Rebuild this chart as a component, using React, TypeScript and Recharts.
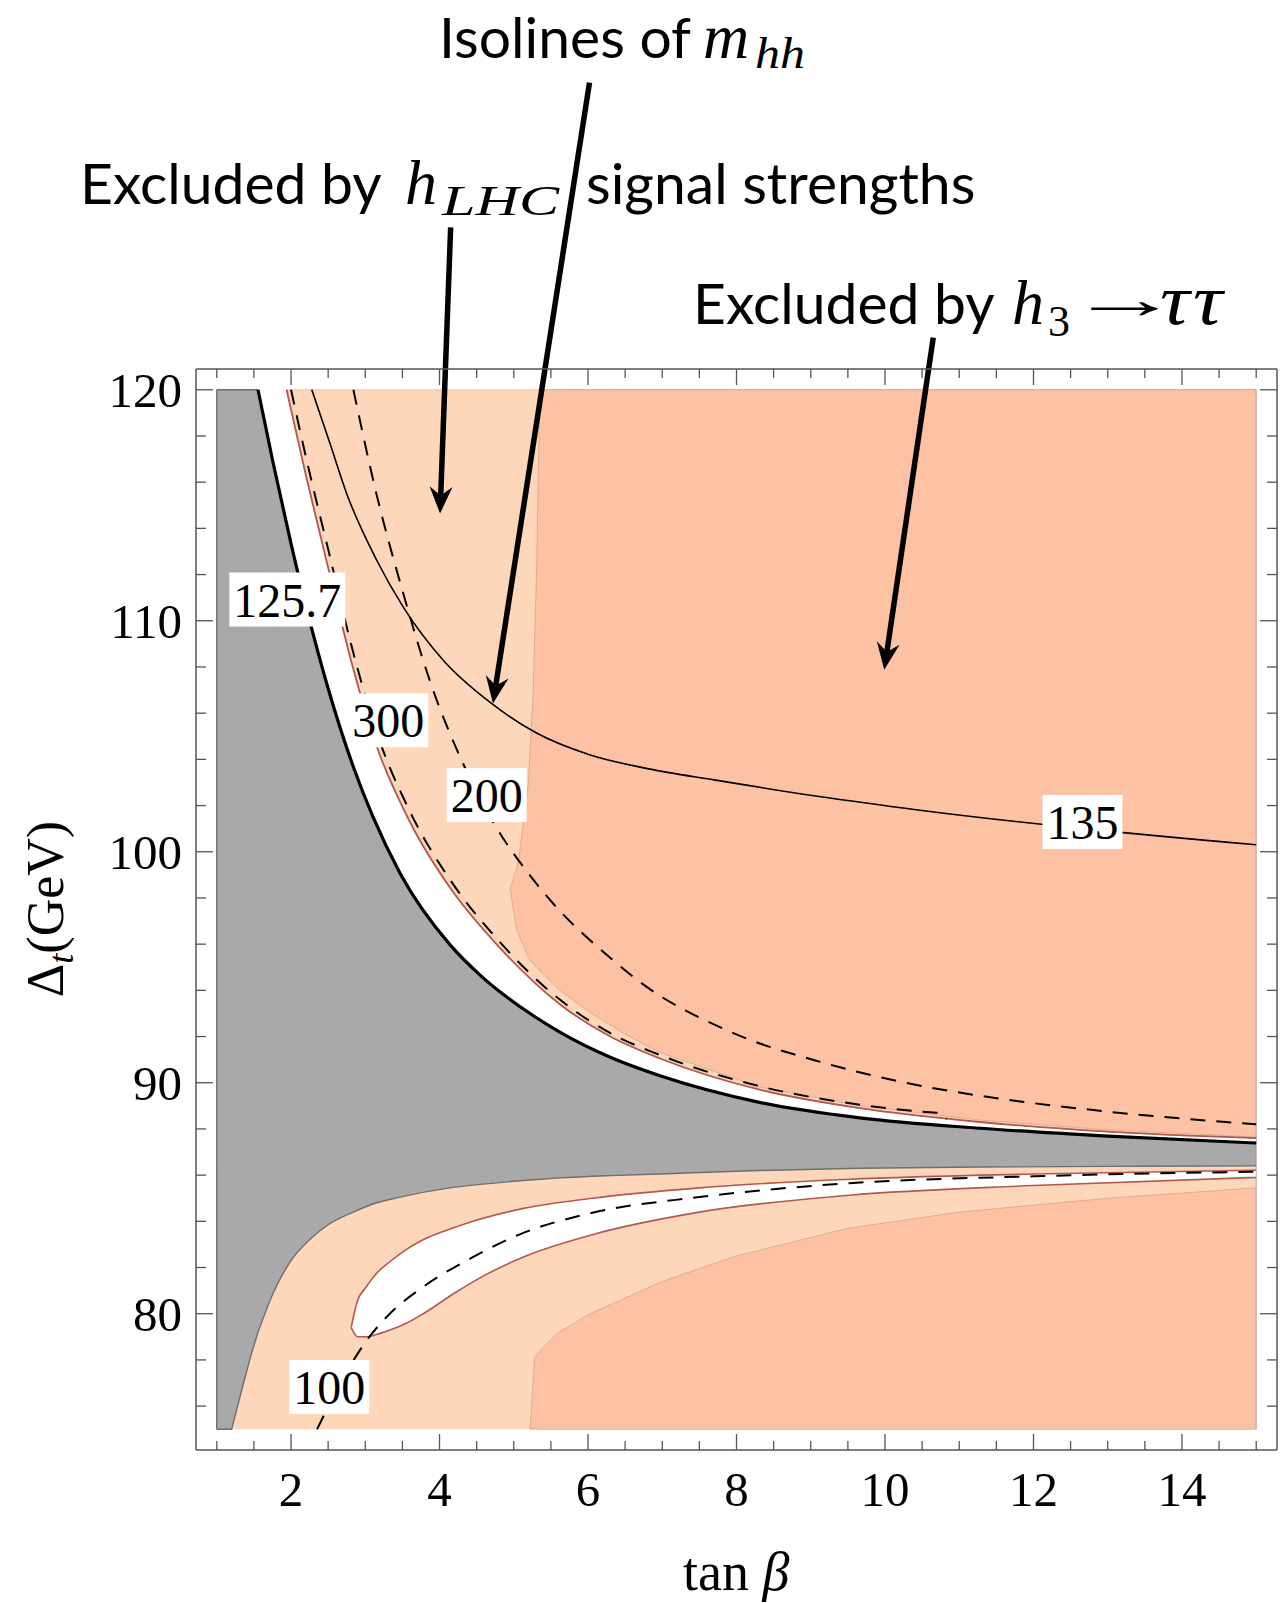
import React from 'react';
import { Area, ComposedChart, Line, ReferenceDot, ReferenceLine, XAxis, YAxis } from 'recharts';

// grey band excluded by the Higgs mass, left block (flat top at 120)
const grayLeftX = [1.0, 1.2, 1.36, 1.46, 1.555];
const grayLeftLow = [75, 75, 77.0, 78.2, 79.2];
const grayLeftHigh = [120, 120, 120, 120, 120];

// grey band, right of the 125.7 contour start: lower / upper Delta_t edge
const grayX = [1.555, 1.76, 2.0, 2.25, 2.5, 2.84, 3.1, 3.47, 4.14, 4.55, 5.26, 5.62, 6.3, 6.97, 8.31, 9.66, 11.28, 13.0, 15.0];
const grayLow = [79.2, 80.9, 82.3, 83.2, 83.85, 84.4, 84.75, 85.05, 85.45, 85.6, 85.8, 85.88, 85.98, 86.05, 86.2, 86.3, 86.35, 86.38, 86.4];
const grayHigh = [120, 116.82, 113.34, 110.02, 107.07, 103.67, 101.54, 99.06, 95.98, 94.65, 92.91, 92.19, 91.1, 90.3, 89.15, 88.48, 88.03, 87.69, 87.39];

// red edge of the h_LHC signal strength exclusion above the grey band
const lhcEdgeX = [1.94, 2.2, 2.5, 2.84, 3.15, 3.6, 4.14, 4.81, 5.62, 6.3, 6.97, 8.31, 9.66, 11.28, 13.0, 15.0];
const lhcEdgeY = [120, 116.3, 112.3, 107.9, 104.6, 101.3, 98.45, 95.85, 93.4, 92.0, 91.05, 89.7, 88.9, 88.3, 87.88, 87.6];

// light band below the grey region
const lowerBandX = [1.0, 15.0];
const lowerBandLow = [75, 75];
const lowerBandHigh = [86.4, 86.4];

// allowed pocket inside the lower band
const pocketX = [2.81, 2.9, 3.0, 3.15, 3.33, 3.56, 3.78, 4.23, 4.45, 5.13, 6.03, 7.5, 9.52, 12.0, 15.0];
const pocketLow = [79.4, 79.0, 79.0, 79.1, 79.29, 79.6, 80.0, 80.95, 81.38, 82.46, 83.4, 84.4, 85.13, 85.55, 85.9];
const pocketHigh = [79.4, 80.6, 81.1, 81.74, 82.25, 82.8, 83.2, 83.76, 84.0, 84.56, 84.99, 85.45, 85.82, 86.05, 86.21];

// h3 -> tau tau exclusion, upper piece
const tauUpX = [4.95, 5.04, 5.08, 5.2, 5.26, 5.31, 5.35, 5.62, 6.0, 6.5, 6.97, 8.31, 9.66, 11.28, 13.0, 15.0];
const tauUpLow = [98.4, 96.6, 96.3, 95.4, 95.16, 95.0, 94.85, 94.0, 93.1, 92.1, 91.3, 89.82, 89.0, 88.38, 87.96, 87.65];
const tauUpHigh = [98.4, 99.3, 100.0, 103.1, 106.9, 112.6, 120, 120, 120, 120, 120, 120, 120, 120, 120, 120];

// h3 -> tau tau exclusion, lower piece
const tauDownX = [5.22, 5.28, 5.58, 6.03, 7.0, 8.0, 9.5, 11.0, 13.0, 15.0];
const tauDownLow = [75, 75, 75, 75, 75, 75, 75, 75, 75, 75];
const tauDownHigh = [75, 78.13, 79.14, 80.0, 81.4, 82.5, 83.7, 84.4, 85.0, 85.45];

// m_hh isolines
const iso300X = [2.0, 2.2, 2.5, 2.84, 3.15, 3.6, 4.14, 4.81, 5.62, 6.3, 6.97, 8.31, 9.66, 10.6, 10.75, 10.83];
const iso300Y = [120, 117.1, 113.1, 108.6, 105.2, 101.75, 98.8, 96.1, 93.6, 92.15, 91.2, 89.85, 89.05, 88.72, 88.68, 88.42];
const iso200X = [2.84, 3.15, 3.51, 3.87, 4.32, 4.72, 5.26, 5.53, 6.34, 6.7, 7.87, 9.21, 10.56, 11.23, 13.0, 15.0];
const iso200Y = [120, 115.5, 111.2, 107.4, 103.8, 101.3, 98.8, 97.76, 95.3, 94.36, 92.27, 90.83, 89.82, 89.46, 88.75, 88.2];
const iso135X = [2.28, 2.525, 2.75, 3.154, 3.51, 4.05, 4.7, 5.3, 6.02, 6.8, 7.72, 9.09, 10.47, 12.66, 15.0];
const iso135Y = [120, 117.67, 115.5, 112.62, 110.6, 108.29, 106.42, 105.15, 104.2, 103.6, 103.1, 102.4, 101.8, 101.0, 100.3];
const iso100X = [2.35, 3.02, 3.33, 3.78, 4.45, 5.13, 6.03, 7.5, 9.52, 12.0, 15.0];
const iso100Y = [75.0, 78.85, 80.0, 81.16, 82.45, 83.5, 84.35, 85.05, 85.65, 85.95, 86.15];

const isoLabels = [
  { x: 1.95, y: 110.92, text: '125.7' },
  { x: 3.31, y: 105.69, text: '300' },
  { x: 4.635, y: 102.45, text: '200' },
  { x: 12.66, y: 101.29, text: '135' },
  { x: 2.515, y: 76.83, text: '100' },
];

// annotation arrows, tail -> head
const arrows = [
  { from: { x: 4.15, y: 127.03 }, to: { x: 4.007, y: 114.64 } },
  { from: { x: 6.02, y: 133.3 }, to: { x: 4.72, y: 106.42 } },
  { from: { x: 10.65, y: 122.26 }, to: { x: 9.99, y: 107.88 } },
];

const xTicks = [1, 1.5, 2, 2.5, 3, 3.5, 4, 4.5, 5, 5.5, 6, 6.5, 7, 7.5, 8, 8.5, 9, 9.5, 10, 10.5, 11, 11.5, 12, 12.5, 13, 13.5, 14, 14.5, 15];
const yTicks = [76, 78, 80, 82, 84, 86, 88, 90, 92, 94, 96, 98, 100, 102, 104, 106, 108, 110, 112, 114, 116, 118, 120];

const band = (xs: number[], lo: number[], hi: number[]) => xs.map((x, i) => ({ x, v: [lo[i], hi[i]] }));
const curve = (xs: number[], ys: number[]) => xs.map((x, i) => ({ x, y: ys[i] }));

const SERIF = '"Liberation Serif", "Times New Roman", serif';
const SANS = 'Lato, "Open Sans", sans-serif';
const FRAME = '#555';
const LIGHT = '#fed7ba';
const DARK = '#fdc2a3';
const RED = '#b4584e';
const GREY = '#a9a9a9';
const GREY_EDGE = '#6e6e6e';

const isMajor = (v: number, step: number) => Math.abs(v / step - Math.round(v / step)) < 1e-6;

const BottomTick = (props: any) => {
  const { x, y, payload } = props;
  const major = isMajor(payload.value, 2);
  return (
    <g>
      <line x1={x} y1={y} x2={x} y2={y - (major ? 16 : 9)} stroke={FRAME} strokeWidth={1.3} />
      {major && (
        <text x={x} y={y + 56} textAnchor="middle" fontFamily={SERIF} fontSize={49} fill="#000">
          {payload.value}
        </text>
      )}
    </g>
  );
};

const TopTick = (props: any) => {
  const { x, y, payload } = props;
  const major = isMajor(payload.value, 2);
  return <line x1={x} y1={y} x2={x} y2={y + (major ? 16 : 9)} stroke={FRAME} strokeWidth={1.3} />;
};

const LeftTick = (props: any) => {
  const { x, y, payload } = props;
  const major = isMajor(payload.value, 10);
  return (
    <g>
      <line x1={x} y1={y} x2={x + (major ? 17 : 10)} y2={y} stroke={FRAME} strokeWidth={1.3} />
      {major && (
        <text x={x - 14} y={y + 17} textAnchor="end" fontFamily={SERIF} fontSize={49} fill="#000">
          {payload.value}
        </text>
      )}
    </g>
  );
};

const RightTick = (props: any) => {
  const { x, y, payload } = props;
  const major = isMajor(payload.value, 10);
  return <line x1={x} y1={y} x2={x - (major ? 17 : 10)} y2={y} stroke={FRAME} strokeWidth={1.3} />;
};

const IsoLabel = (props: any) => {
  const { cx, cy, text } = props;
  const w = text.replace('.', '').length * 24 + (text.includes('.') ? 12 : 0) + 8;
  return (
    <g>
      <rect x={cx - w / 2} y={cy - 27} width={w} height={54} fill="#fff" />
      <text x={cx} y={cy + 17} textAnchor="middle" fontFamily={SERIF} fontSize={48} fill="#000">
        {text}
      </text>
    </g>
  );
};

const ArrowShape = (props: any) => {
  const { x1, y1, x2, y2 } = props;
  const dx = x2 - x1;
  const dy = y2 - y1;
  const len = Math.hypot(dx, dy);
  const ux = dx / len;
  const uy = dy / len;
  const hl = 27;
  const hw = 11.5;
  const notch = 9;
  const bx = x2 - ux * hl;
  const by = y2 - uy * hl;
  const nx = x2 - ux * (hl - notch);
  const ny = y2 - uy * (hl - notch);
  const head = `M${x2},${y2} L${bx - uy * hw},${by + ux * hw} L${nx},${ny} L${bx + uy * hw},${by - ux * hw} Z`;
  return (
    <g>
      <line x1={x1} y1={y1} x2={nx} y2={ny} stroke="#000" strokeWidth={5.5} />
      <path d={head} fill="#000" />
    </g>
  );
};

const isoLine = (key: string, data: { x: number; y: number }[], dashed: boolean) => (
  <Line
    key={key}
    data={data}
    dataKey="y"
    type="monotone"
    stroke="#000"
    strokeWidth={dashed ? 2 : 1.6}
    strokeDasharray={dashed ? '15 11' : undefined}
    dot={false}
    activeDot={false}
    isAnimationActive={false}
  />
);

const axisCommon = {
  type: 'number' as const,
  allowDataOverflow: true,
  interval: 0 as const,
  tickSize: 0,
  tickMargin: 0,
  tickLine: false,
  axisLine: { stroke: FRAME, strokeWidth: 1.5 },
};

export default function App() {
  return (
    <div style={{ position: 'relative', width: 1288, height: 1603, background: '#fff' }}>
      <style>{'body{margin:0}'}</style>
      <ComposedChart width={1288} height={1603} margin={{ top: 368, right: 10, bottom: 152, left: 195 }}>
        <XAxis {...axisCommon} dataKey="x" domain={[0.72, 15.28]} ticks={xTicks} height={1} tick={<BottomTick />} />
        <XAxis {...axisCommon} xAxisId="top" orientation="top" dataKey="x" domain={[0.72, 15.28]} ticks={xTicks} height={1} tick={<TopTick />} />
        <YAxis {...axisCommon} domain={[74.1, 120.9]} ticks={yTicks} width={1} tick={<LeftTick />} />
        <YAxis {...axisCommon} yAxisId="right" orientation="right" domain={[74.1, 120.9]} ticks={yTicks} width={1} tick={<RightTick />} />

        {/* excluded regions */}
        <Area data={band(lhcEdgeX, lhcEdgeY, lhcEdgeX.map(() => 120))} dataKey="v" type="monotone" fill={LIGHT} fillOpacity={1} stroke="rgba(200,150,120,0.45)" strokeWidth={1} isAnimationActive={false} />
        <Area data={band(lowerBandX, lowerBandLow, lowerBandHigh)} dataKey="v" type="linear" fill={LIGHT} fillOpacity={1} stroke="none" isAnimationActive={false} />
        <Area data={band(tauUpX, tauUpLow, tauUpHigh)} dataKey="v" type="linear" fill={DARK} fillOpacity={1} stroke="rgba(200,140,110,0.5)" strokeWidth={1} isAnimationActive={false} />
        <Area data={band(tauDownX, tauDownLow, tauDownHigh)} dataKey="v" type="linear" fill={DARK} fillOpacity={1} stroke="rgba(200,140,110,0.5)" strokeWidth={1} isAnimationActive={false} />
        <Area data={band(pocketX, pocketLow, pocketHigh)} dataKey="v" type="monotone" fill="#fff" fillOpacity={1} stroke={RED} strokeWidth={1.6} isAnimationActive={false} />
        <Area data={band(grayLeftX, grayLeftLow, grayLeftHigh)} dataKey="v" type="linear" fill={GREY} fillOpacity={1} stroke={GREY_EDGE} strokeWidth={1.4} isAnimationActive={false} />
        <Area data={band(grayX, grayLow, grayHigh)} dataKey="v" type="monotone" fill={GREY} fillOpacity={1} stroke={GREY_EDGE} strokeWidth={1.4} isAnimationActive={false} />
        <Line data={[{ x: 1, y: 75 }, { x: 1, y: 120 }]} dataKey="y" stroke={GREY_EDGE} strokeWidth={1.4} dot={false} activeDot={false} isAnimationActive={false} />
        <Line data={[{ x: 15, y: 75 }, { x: 15, y: 120 }]} dataKey="y" stroke="rgba(120,100,90,0.35)" strokeWidth={1.4} dot={false} activeDot={false} isAnimationActive={false} />

        {/* boundaries */}
        <Line data={curve(lhcEdgeX, lhcEdgeY)} dataKey="y" type="monotone" stroke={RED} strokeWidth={1.8} dot={false} activeDot={false} isAnimationActive={false} />
        <Line data={curve(grayX, grayHigh)} dataKey="y" type="monotone" stroke="#000" strokeWidth={3.2} dot={false} activeDot={false} isAnimationActive={false} />
        {isoLine('iso300', curve(iso300X, iso300Y), true)}
        {isoLine('iso200', curve(iso200X, iso200Y), true)}
        {isoLine('iso135', curve(iso135X, iso135Y), false)}
        {isoLine('iso100', curve(iso100X, iso100Y), true)}

        {isoLabels.map((l) => (
          <ReferenceDot key={l.text} x={l.x} y={l.y} r={0} ifOverflow="visible" shape={(p: any) => <IsoLabel {...p} text={l.text} />} />
        ))}
        {arrows.map((a, i) => (
          <ReferenceLine key={i} segment={[a.from, a.to]} ifOverflow="visible" shape={(p: any) => <ArrowShape {...p} />} />
        ))}
      </ComposedChart>

      <svg width={1288} height={1603} style={{ position: 'absolute', left: 0, top: 0, pointerEvents: 'none' }}>
        <text y={58} fontFamily={SANS} fontSize={57} fill="#000">
          <tspan x={439}>Isolines of</tspan>
          <tspan x={703} fontFamily={SERIF} fontStyle="italic" fontSize={64}>m</tspan>
          <tspan x={755} y={68} fontFamily={SERIF} fontStyle="italic" fontSize={44} textLength={50} lengthAdjust="spacingAndGlyphs">hh</tspan>
        </text>
        <text y={204} fontFamily={SANS} fontSize={57} fill="#000">
          <tspan x={80}>Excluded by</tspan>
          <tspan x={405} fontFamily={SERIF} fontStyle="italic" fontSize={64}>h</tspan>
          <tspan x={442} y={215} fontFamily={SERIF} fontStyle="italic" fontSize={42} textLength={117} lengthAdjust="spacingAndGlyphs">LHC</tspan>
          <tspan x={586} y={204}>signal strengths</tspan>
        </text>
        <text y={324} fontFamily={SANS} fontSize={57} fill="#000">
          <tspan x={693}>Excluded by</tspan>
          <tspan x={1012} fontFamily={SERIF} fontStyle="italic" fontSize={64}>h</tspan>
          <tspan x={1048} y={336} fontFamily={SERIF} fontSize={44}>3</tspan>
        </text>
        <text transform="translate(1068 318) scale(2.0 1)" fontFamily={SERIF} fontSize={56} fill="#000">→</text>
        <text transform="translate(1160 324) scale(1.15 1)" fontFamily={SERIF} fontStyle="italic" fontSize={72} letterSpacing={3} fill="#000">ττ</text>
        <text x={683} y={1590} fontFamily={SERIF} fontSize={54} fill="#000">
          tan <tspan fontStyle="italic">β</tspan>
        </text>
        <text x={63} y={909} transform="rotate(-90 63 909)" textAnchor="middle" fontFamily={SERIF} fontSize={52} fill="#000">
          Δ<tspan fontStyle="italic" fontSize={36} dy={10}>t</tspan>
          <tspan dy={-10}>(GeV)</tspan>
        </text>
      </svg>
    </div>
  );
}
